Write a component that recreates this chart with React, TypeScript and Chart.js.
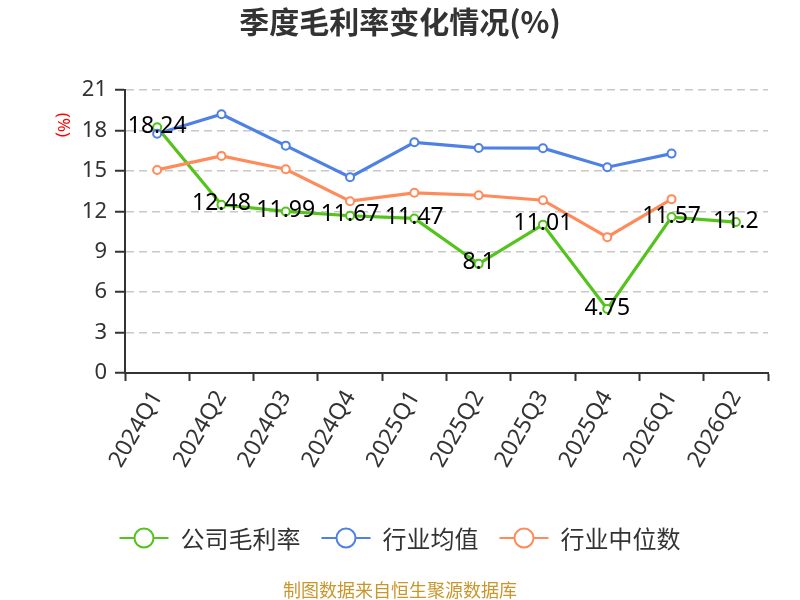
import { useEffect, useRef } from "react";
import { Chart, registerables } from "chart.js";

Chart.register(...registerables);

// Dados do gráfico
const quarters = ["2024Q1", "2024Q2", "2024Q3", "2024Q4", "2025Q1", "2025Q2", "2025Q3", "2025Q4", "2026Q1", "2026Q2"];
const companyMargin = [18.24, 12.48, 11.99, 11.67, 11.47, 8.1, 11.01, 4.75, 11.57, 11.2];
const industryAverage = [17.75, 19.2, 16.87, 14.53, 17.12, 16.7, 16.68, 15.27, 16.28, null];
const industryMedian = [15.07, 16.11, 15.12, 12.75, 13.37, 13.19, 12.82, 10.08, 12.9, null];
const yTicks = [0, 3, 6, 9, 12, 15, 18, 21];
const seriesNames = ["公司毛利率", "行业均值", "行业中位数"];
const seriesColors = ["#54c31c", "#4f80e4", "#ff8b5a"];

const titleText = "季度毛利率变化情况(%)";
const sourceText = "制图数据来自恒生聚源数据库";
const latinFont = '"Noto Sans", "Noto Sans CJK SC", sans-serif';
const cjkFont = '"Noto Sans CJK SC", "Noto Sans", sans-serif';

const overlayPlugin = {
  id: "overlay",
  afterDatasetsDraw(chart: any) {
    const ctx = chart.ctx;
    const meta = chart.getDatasetMeta(0);
    ctx.save();
    ctx.font = `23px ${latinFont}`;
    ctx.fillStyle = "#000";
    ctx.textAlign = "center";
    ctx.textBaseline = "middle";
    meta.data.forEach((pt: any, i: number) => {
      ctx.fillText(String(companyMargin[i]), pt.x, pt.y - 1);
    });
    ctx.restore();
  },
  afterDraw(chart: any) {
    const ctx = chart.ctx;
    ctx.save();

    // titulo
    ctx.font = `bold 30px ${cjkFont}`;
    ctx.fillStyle = "#333";
    ctx.textAlign = "center";
    ctx.textBaseline = "middle";
    ctx.fillText(titleText, 400, 22);

    // titulo do eixo Y
    ctx.save();
    ctx.translate(63, 125);
    ctx.rotate(Math.PI / 2);
    ctx.font = `17px ${latinFont}`;
    ctx.fillStyle = "#ff0000";
    ctx.fillText("(%)", 0, 0);
    ctx.restore();

    // legenda
    ctx.font = `24px ${cjkFont}`;
    const gap = 21;
    const widths = seriesNames.map((n) => 61 + ctx.measureText(n).width);
    const total = widths.reduce((a, b) => a + b, 0) + gap * (widths.length - 1);
    let x = 400 - total / 2;
    const ly = 538;
    seriesNames.forEach((name, i) => {
      ctx.strokeStyle = seriesColors[i];
      ctx.lineWidth = 2;
      ctx.beginPath();
      ctx.moveTo(x, ly);
      ctx.lineTo(x + 49, ly);
      ctx.stroke();
      ctx.beginPath();
      ctx.arc(x + 24.5, ly, 9.5, 0, Math.PI * 2);
      ctx.fillStyle = "#fff";
      ctx.fill();
      ctx.stroke();
      ctx.fillStyle = "#333";
      ctx.textAlign = "left";
      ctx.fillText(name, x + 61, ly + 1);
      x += widths[i] + gap;
    });

    // fonte
    ctx.font = `18px ${cjkFont}`;
    ctx.fillStyle = "#c9962c";
    ctx.textAlign = "center";
    ctx.fillText(sourceText, 400, 590);
    ctx.restore();
  },
};

export default function App() {
  const chartRef = useRef<Chart | null>(null);
  const canvasRef = useRef<HTMLCanvasElement>(null);

  useEffect(() => {
    if (!canvasRef.current) return;
    const ctx = canvasRef.current.getContext("2d");
    if (!ctx) return;

    const makeSet = (label: string, data: (number | null)[], color: string, order: number) => ({
      label,
      data,
      borderColor: color,
      backgroundColor: color,
      pointBackgroundColor: "#fff",
      pointBorderColor: color,
      pointBorderWidth: 2,
      pointRadius: 4,
      borderWidth: 3.2,
      tension: 0,
      spanGaps: false,
      order,
    });

    chartRef.current = new Chart(ctx, {
      type: "line",
      data: {
        labels: quarters,
        datasets: [
          makeSet(seriesNames[0], companyMargin, seriesColors[0], 2),
          makeSet(seriesNames[1], industryAverage, seriesColors[1], 0),
          makeSet(seriesNames[2], industryMedian, seriesColors[2], 1),
        ],
      },
      options: {
        responsive: false,
        animation: false,
        layout: { padding: { top: 90, right: 32, left: 0, bottom: 0 } },
        plugins: {
          legend: { display: false },
          tooltip: { enabled: false },
        },
        scales: {
          x: {
            offset: true,
            afterFit: (s: any) => {
              s.height = 227;
            },
            grid: {
              offset: true,
              drawOnChartArea: false,
              tickLength: 8,
              tickColor: "#333",
              tickWidth: 2,
            },
            border: { color: "#333", width: 2 },
            ticks: {
              autoSkip: false,
              minRotation: 60,
              maxRotation: 60,
              padding: 5,
              color: "#333",
              font: { size: 23, family: latinFont },
            },
          },
          y: {
            min: 0,
            max: 21,
            afterFit: (s: any) => {
              s.width = 125;
            },
            afterBuildTicks: (s: any) => {
              s.ticks = yTicks.map((v) => ({ value: v }));
            },
            grid: {
              color: (c: any) => (c.tick && c.tick.value === 0 ? "rgba(0,0,0,0)" : "#c8c8c8"),
              lineWidth: 1.5,
              tickLength: 10,
              tickColor: "#333",
              tickWidth: 2,
            },
            border: { color: "#333", width: 2, dash: [8, 5] },
            ticks: {
              padding: 8,
              color: "#333",
              font: { size: 22, family: latinFont },
            },
          },
        },
      },
      plugins: [overlayPlugin],
    } as any);

    return () => {
      if (chartRef.current) {
        chartRef.current.destroy();
        chartRef.current = null;
      }
    };
  }, []);

  return (
    <div style={{ position: "absolute", left: 0, top: 0, width: 800, height: 600, background: "#fff" }}>
      <canvas ref={canvasRef} width={800} height={600} style={{ width: 800, height: 600 }} />
    </div>
  );
}
